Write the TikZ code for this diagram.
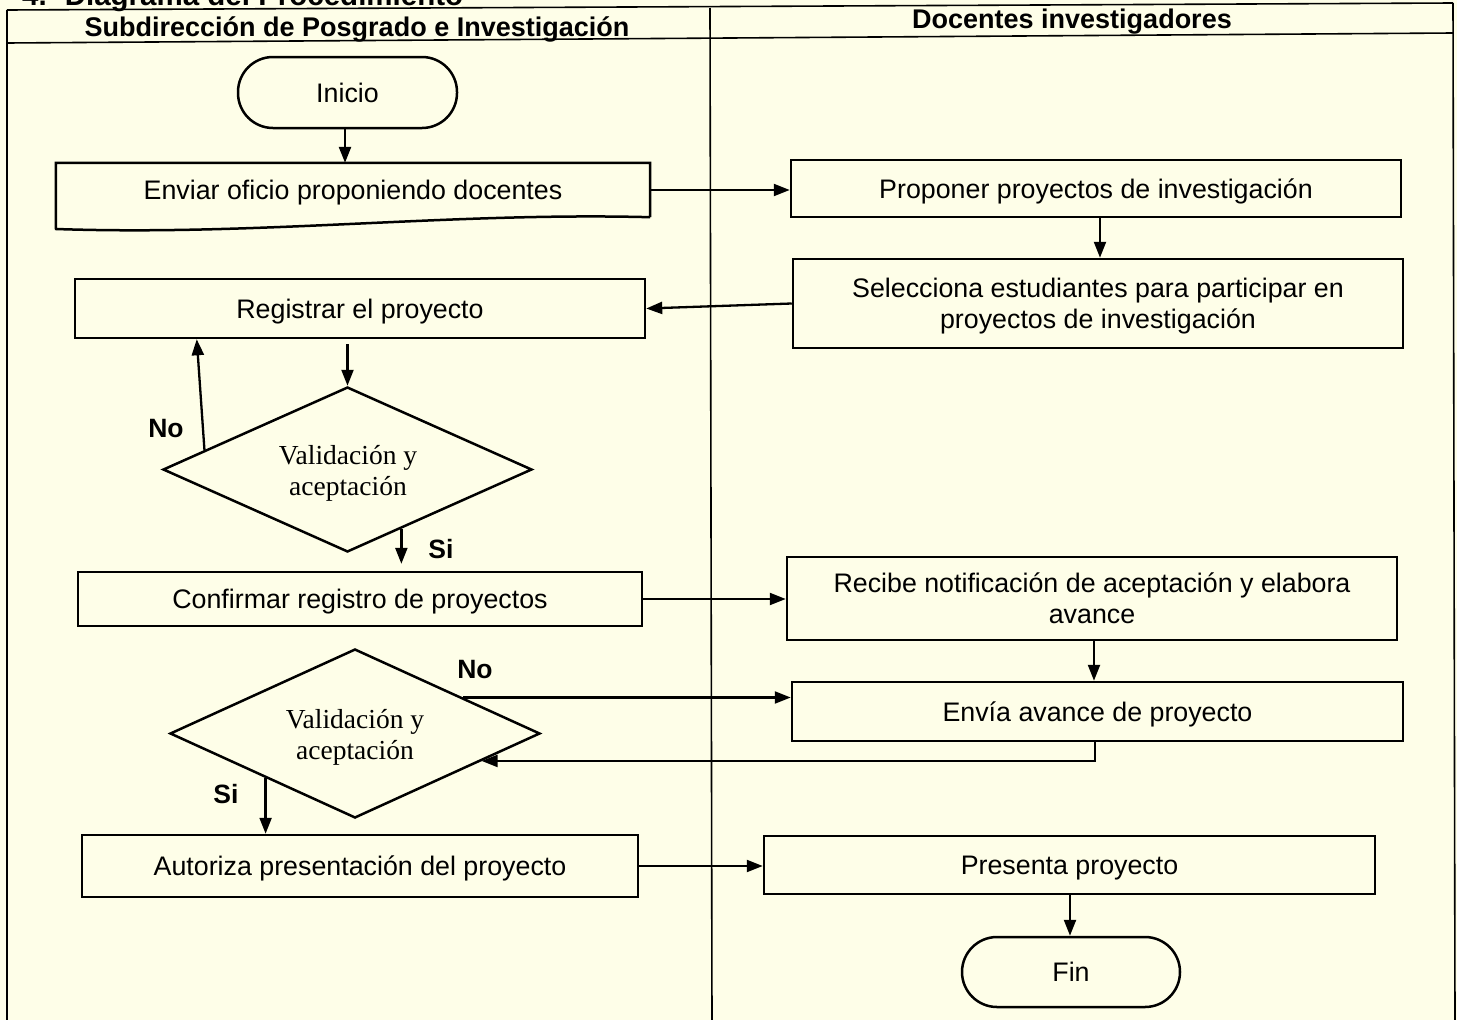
\documentclass[tikz,border=0pt]{standalone}
\usepackage{fontspec}
\setmainfont{Liberation Sans}
\newfontfamily\dserif{Liberation Serif}
\usetikzlibrary{arrows.meta,calc,shapes.geometric}
\definecolor{bg}{RGB}{254,254,232}
\tikzset{
  boxtext/.style={font=\fontsize{26.8}{31}\selectfont, align=center, inner sep=0pt, text depth=0pt},
  procbox/.style={boxtext, draw, line width=2.5pt, fill=bg},
  termbox/.style={procbox, rounded corners=35pt},
  decbox/.style={diamond, draw, line width=2.5pt, fill=bg, inner sep=0pt},
  dectext/.style={font=\dserif\fontsize{27.5}{31}\selectfont, align=center, inner sep=0pt},
  lbl/.style={font=\bfseries\fontsize{26.5}{31}\selectfont, inner sep=0pt},
  hdr/.style={font=\bfseries\fontsize{27}{31}\selectfont, inner sep=0pt},
  flow/.style={line width=2.3pt, -{Triangle[length=16pt,width=12pt]}},
  grid/.style={line width=1.6pt}
}
\begin{document}
\begin{tikzpicture}[x=1pt,y=-1pt]
\useasboundingbox (0,0) rectangle (1457,1020);
\fill[bg] (0,0) rectangle (1457,1020);
% title (cut off at top, as in the reference)
\node[font=\bfseries\fontsize{29.5}{33}\selectfont, anchor=base west, inner sep=0pt] (title) at (22,5) {4.- Diagrama del Procedimiento};
% table
\draw[grid] (7,10) -- (1453,3);
\draw[grid] (7,43) -- (1453,33);
\draw[grid] (7,10) -- (7,1025);
\draw[grid] (710,8) -- (712,1025);
\draw[grid] (1453,3) -- (1455,1025);
\node[hdr] (h1) at (357,29) {Subdirección de Posgrado e Investigación};
\node[hdr] (h2) at (1072,21.5) {Docentes investigadores};

% nodes
\node[termbox, minimum width=219, minimum height=71] (ini) at (347.5,92.5) {Inicio};
\node[boxtext, minimum width=594, minimum height=54] (env) at (353,190) {Enviar oficio proponiendo docentes};
\draw[line width=2.5pt] (env.south east) -- (env.north east) -- (env.north west) -- (56,229)
   .. controls (260,236) and (450,212) .. (env.south east);
\node[procbox, minimum width=610, minimum height=57] (prop) at (1096,188.5) {Proponer proyectos de investigación};
\node[procbox, minimum width=610, minimum height=89] (sel) at (1098,303.5) {Selecciona estudiantes para participar en\\proyectos de investigación};
\node[procbox, minimum width=570, minimum height=59] (reg) at (360,308.5) {Registrar el proyecto};
\node[decbox, minimum width=369, minimum height=165] (d1) at (347.5,469.5) {};
\node[dectext] (d1t) at (348,473) {Validación y\\aceptación};
\node[procbox, minimum width=564, minimum height=54] (conf) at (360,599) {Confirmar registro de proyectos};
\node[procbox, minimum width=610, minimum height=83] (rec) at (1092,598.5) {Recibe notificación de aceptación y elabora\\avance};
\node[procbox, minimum width=611, minimum height=59] (envia) at (1097.5,711.5) {Envía avance de proyecto};
\node[decbox, minimum width=370, minimum height=169] (d2) at (355,733.5) {};
\node[dectext] (d2t) at (355,737) {Validación y\\aceptación};
\node[procbox, minimum width=556, minimum height=62] (aut) at (360,866) {Autoriza presentación del proyecto};
\node[procbox, minimum width=611, minimum height=58] (pres) at (1069.5,865) {Presenta proyecto};
\node[termbox, minimum width=218, minimum height=70] (fin) at (1071,972) {Fin};

% labels
\node[lbl] (no1) at (166,429) {No};
\node[lbl] (si1) at (441,549) {Si};
\node[lbl] (no2) at (475,670) {No};
\node[lbl] (si2) at (226,794) {Si};

% connectors
\draw[flow] (ini.south -| 345,0) -- (env.north -| 345,0);
\draw[flow] (env.east) -- (prop.west |- env.east);
\draw[flow] (prop.south -| 1100,0) -- (sel.north -| 1100,0);
\draw[flow] (sel.west) -- (reg.east);
\draw[flow, shorten <=5pt] (d1.north |- reg.south) -- (d1.north);
\coordinate (d1no) at ($(d1.west)!0.23!(d1.north)$);
\coordinate (regno) at ($(reg.south west)+(123,0)$);
\draw[flow] (d1no) -- (regno);
\coordinate (d1si) at ($(d1.south)!0.29!(d1.east)$);
\draw[flow, shorten >=7pt] (d1si) -- (d1si |- conf.north);
\draw[flow] (conf.east) -- (rec.west |- conf.east);
\draw[flow] (rec.south -| 1094,0) -- (envia.north -| 1094,0);
\coordinate (d2no) at ($(d2.north)!0.58!(d2.east)$);
\draw[flow] (d2no) -- (envia.west |- d2no);
\coordinate (d2back) at ($(d2.east)!0.32!(d2.south)$);
\draw[flow] (envia.south -| 1095,0) -- (1095,0 |- d2back) -- (d2back);
\coordinate (d2si) at ($(d2.west)!0.52!(d2.south)$);
\draw[flow] (d2si) -- (d2si |- aut.north);
\draw[flow] (aut.east) -- (pres.west |- aut.east);
\draw[flow] (pres.south -| 1070,0) -- (fin.north -| 1070,0);
\end{tikzpicture}
\end{document}
